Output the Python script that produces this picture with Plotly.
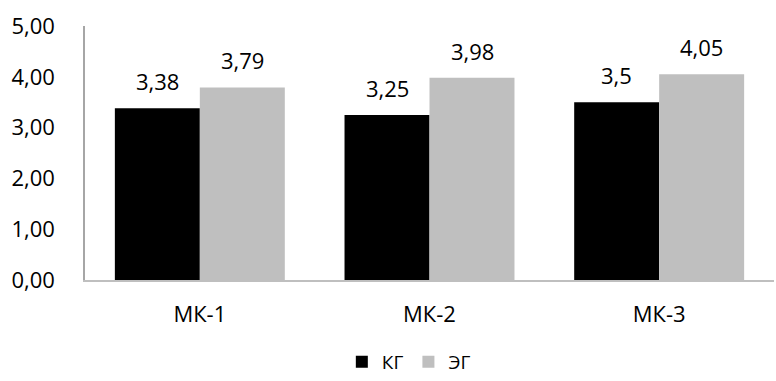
import plotly.graph_objects as go

categories = ["МК-1", "МК-2", "МК-3"]
kg_values = [3.38, 3.25, 3.5]
eg_values = [3.79, 3.98, 4.05]
series_names = ["КГ", "ЭГ"]
y_ticks = [0, 1, 2, 3, 4, 5]

FONT = "Open Sans"
colors = ["#000000", "#bfbfbf"]

fig = go.Figure()
for name, vals, col in zip(series_names, [kg_values, eg_values], colors):
    fig.add_trace(go.Bar(
        x=categories, y=vals, name=name,
        marker=dict(color=col, line=dict(width=0)),
    ))

# value labels above each bar (bars are ~85 px wide, so shift half a bar)
bar_half_px = 42.5
for shift, vals in zip([-bar_half_px, bar_half_px], [kg_values, eg_values]):
    for cat, v in zip(categories, vals):
        fig.add_annotation(
            x=cat, y=v, xref="x", yref="y",
            text=str(v).replace(".", ","),
            showarrow=False, xshift=shift, yshift=27,
            yanchor="middle",
            font=dict(family=FONT, size=22, color="#000000"),
        )

fig.update_layout(
    width=776, height=381,
    margin=dict(l=85, r=2, t=26, b=101, autoexpand=False),
    paper_bgcolor="white", plot_bgcolor="white",
    barmode="group", bargap=0.26, bargroupgap=0,
    separators=", ",
    font=dict(family=FONT, size=22, color="#000000"),
    showlegend=True,
    legend=dict(
        orientation="h", x=0.47, xanchor="center",
        yref="container", y=0.0, yanchor="bottom",
        font=dict(family=FONT, size=19, color="#000000"),
        itemwidth=30, traceorder="normal",
    ),
    xaxis=dict(
        showline=True, linecolor="#bfbfbf", linewidth=1.5,
        showgrid=False, ticks="", ticklabelstandoff=14,
        tickfont=dict(family=FONT, size=22, color="#000000"),
    ),
    yaxis=dict(
        range=[0, 5], tickvals=y_ticks, tickformat=".2f",
        showline=True, linecolor="#a6a6a6", linewidth=1.5,
        showgrid=False, zeroline=False, ticks="",
        ticklabelstandoff=24,
        tickfont=dict(family=FONT, size=22, color="#000000"),
    ),
)

fig.write_html("out.html")
